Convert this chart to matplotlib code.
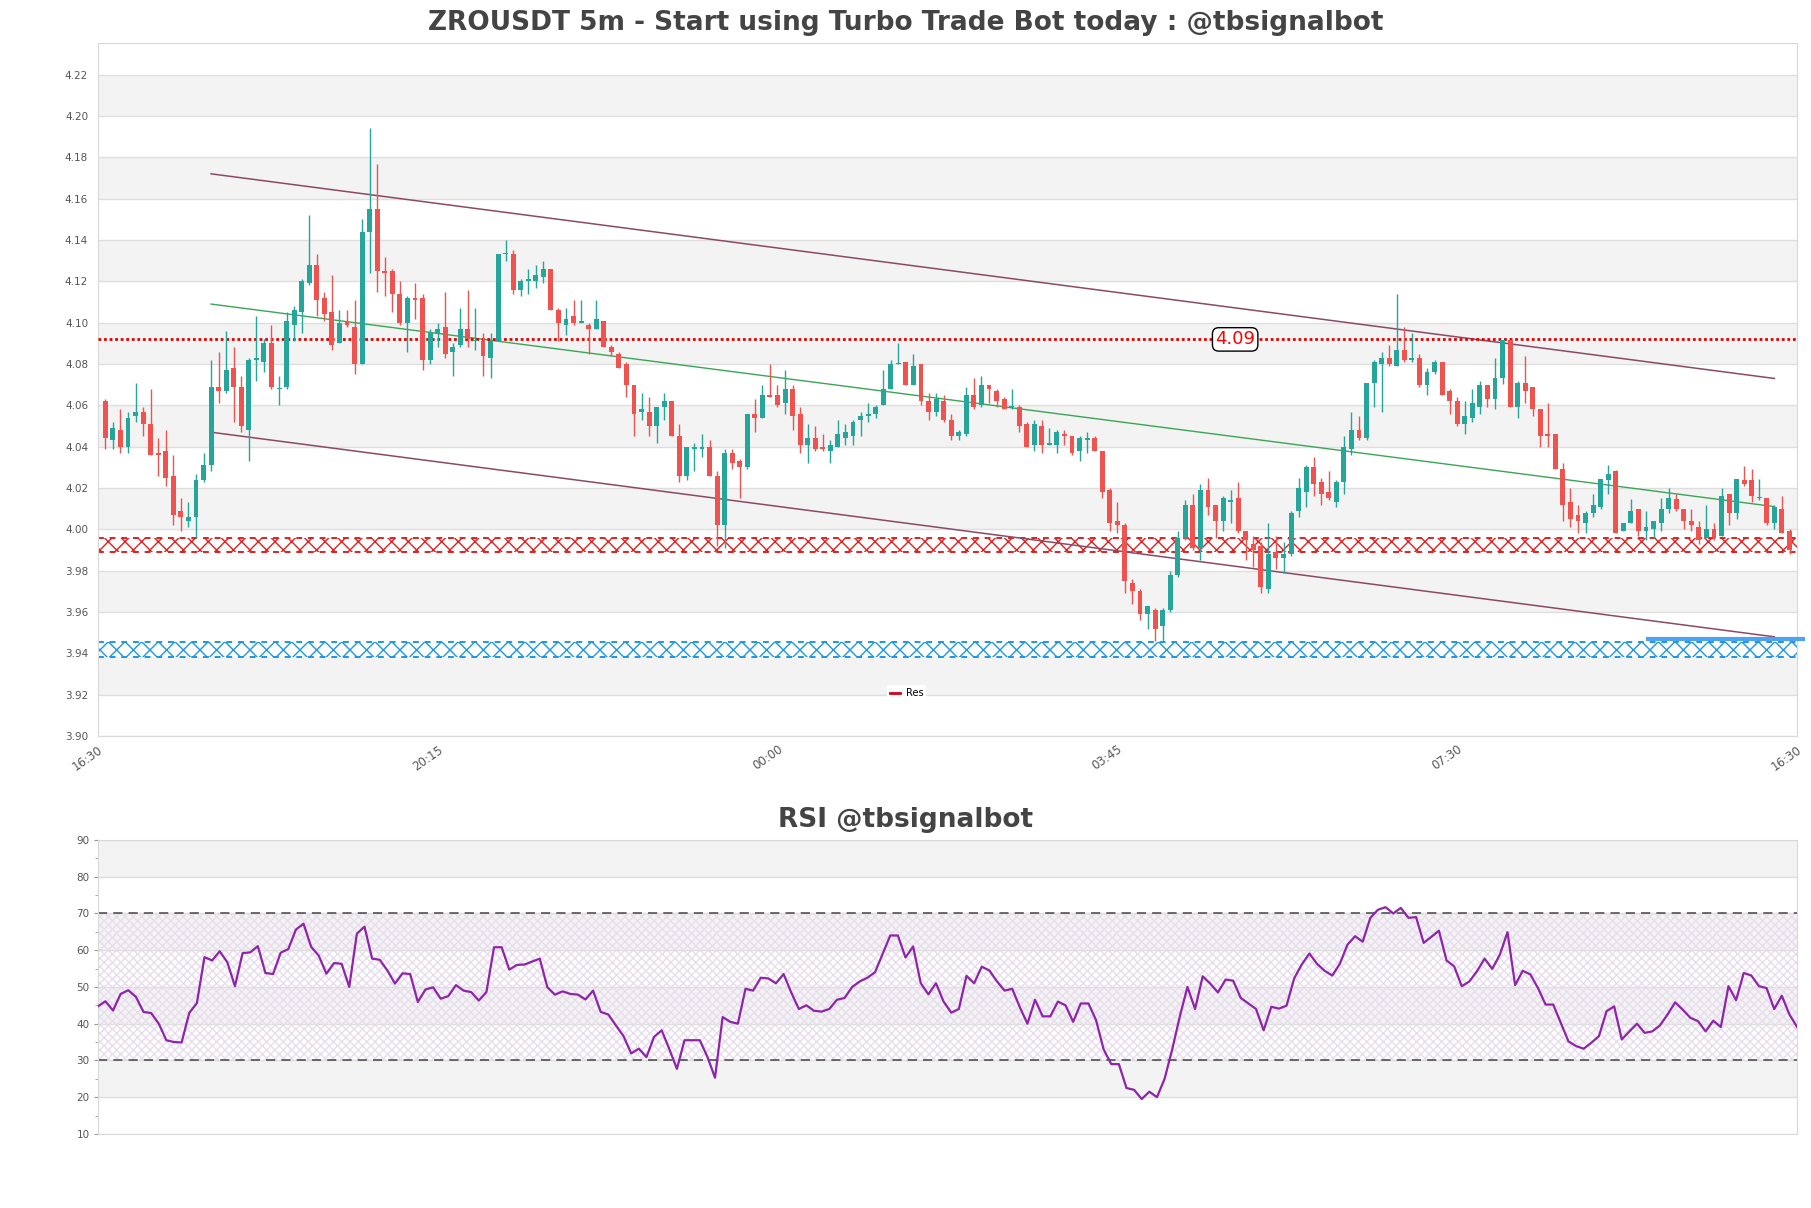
import numpy as np
import matplotlib.pyplot as plt
from matplotlib.lines import Line2D

# 5m candles, index 1..224
opens = [
    4.062, 4.043, 4.048, 4.040, 4.055, 4.057, 4.051, 4.037, 4.038, 4.026,
    4.009, 4.004, 4.006, 4.024, 4.031, 4.069, 4.067, 4.078, 4.069, 4.048,
    4.082, 4.081, 4.090, 4.068, 4.069, 4.099, 4.105, 4.119, 4.128, 4.112,
    4.105, 4.090, 4.101, 4.098, 4.080, 4.144, 4.155, 4.125, 4.125, 4.114,
    4.100, 4.112, 4.112, 4.082, 4.095, 4.098, 4.086, 4.089, 4.097, 4.091,
    4.091, 4.083, 4.091, 4.133, 4.133, 4.116, 4.120, 4.120, 4.122, 4.126,
    4.106, 4.099, 4.103, 4.100, 4.099, 4.097, 4.101, 4.088, 4.085, 4.080,
    4.070, 4.057, 4.057, 4.050, 4.059, 4.062, 4.045, 4.026, 4.039, 4.039,
    4.040, 4.026, 4.002, 4.037, 4.033, 4.030, 4.056, 4.054, 4.065, 4.065,
    4.061, 4.068, 4.056, 4.041, 4.044, 4.040, 4.038, 4.040, 4.044, 4.045,
    4.053, 4.055, 4.056, 4.060, 4.068, 4.080, 4.081, 4.070, 4.080, 4.062,
    4.057, 4.062, 4.053, 4.045, 4.046, 4.065, 4.060, 4.070, 4.067, 4.063,
    4.059, 4.059, 4.051, 4.041, 4.050, 4.041, 4.041, 4.046, 4.045, 4.038,
    4.043, 4.044, 4.038, 4.019, 4.004, 4.002, 3.974, 3.970, 3.959, 3.961,
    3.953, 3.961, 3.978, 3.996, 4.012, 3.991, 4.019, 4.012, 4.004, 4.013,
    4.015, 3.999, 3.993, 3.992, 3.971, 3.989, 3.986, 3.988, 4.009, 4.018,
    4.030, 4.023, 4.018, 4.013, 4.023, 4.039, 4.048, 4.044, 4.071, 4.080,
    4.083, 4.079, 4.087, 4.082, 4.083, 4.070, 4.076, 4.081, 4.067, 4.062,
    4.051, 4.054, 4.059, 4.070, 4.063, 4.073, 4.0915, 4.059, 4.071, 4.069,
    4.058, 4.046, 4.046, 4.029, 4.013, 4.007, 4.003, 4.008, 4.011, 4.024,
    4.028, 3.999, 4.003, 4.010, 3.999, 4.000, 4.003, 4.010, 4.0145, 4.010,
    4.004, 4.001, 3.996, 4.000, 3.997, 4.017, 4.008, 4.024, 4.024, 4.015,
    4.015, 4.003, 4.010, 3.999,
]
highs = [
    4.063, 4.052, 4.058, 4.057, 4.071, 4.059, 4.068, 4.044, 4.048, 4.036,
    4.015, 4.013, 4.027, 4.037, 4.082, 4.086, 4.096, 4.088, 4.074, 4.083,
    4.103, 4.092, 4.099, 4.074, 4.105, 4.108, 4.121, 4.152, 4.133, 4.115,
    4.123, 4.106, 4.106, 4.111, 4.150, 4.194, 4.177, 4.132, 4.126, 4.120,
    4.113, 4.119, 4.114, 4.097, 4.100, 4.115, 4.090, 4.107, 4.116, 4.107,
    4.095, 4.095, 4.133, 4.140, 4.135, 4.121, 4.126, 4.128, 4.130, 4.126,
    4.107, 4.107, 4.111, 4.111, 4.100, 4.111, 4.101, 4.089, 4.086, 4.081,
    4.070, 4.066, 4.064, 4.059, 4.066, 4.062, 4.051, 4.040, 4.042, 4.046,
    4.043, 4.028, 4.039, 4.039, 4.034, 4.056, 4.063, 4.070, 4.080, 4.070,
    4.077, 4.070, 4.059, 4.051, 4.050, 4.046, 4.043, 4.053, 4.051, 4.053,
    4.057, 4.061, 4.060, 4.077, 4.082, 4.090, 4.081, 4.085, 4.080, 4.066,
    4.066, 4.065, 4.056, 4.048, 4.069, 4.073, 4.074, 4.070, 4.068, 4.064,
    4.068, 4.060, 4.052, 4.053, 4.053, 4.049, 4.048, 4.048, 4.045, 4.045,
    4.047, 4.045, 4.038, 4.020, 4.013, 4.003, 3.976, 3.971, 3.963, 3.962,
    3.962, 3.980, 3.999, 4.014, 4.017, 4.022, 4.025, 4.012, 4.016, 4.019,
    4.023, 3.999, 3.997, 3.994, 4.003, 3.997, 3.994, 4.009, 4.025, 4.031,
    4.035, 4.025, 4.028, 4.024, 4.045, 4.057, 4.055, 4.071, 4.082, 4.086,
    4.089, 4.114, 4.098, 4.095, 4.085, 4.078, 4.082, 4.081, 4.068, 4.064,
    4.062, 4.068, 4.072, 4.070, 4.083, 4.0915, 4.0915, 4.072, 4.084, 4.069,
    4.058, 4.061, 4.046, 4.032, 4.020, 4.012, 4.009, 4.017, 4.0245, 4.031,
    4.0285, 4.003, 4.0145, 4.010, 4.009, 4.004, 4.015, 4.020, 4.017, 4.010,
    4.010, 4.004, 4.012, 4.003, 4.020, 4.017, 4.0245, 4.0305, 4.029, 4.0245,
    4.015, 4.012, 4.016, 4.000,
]
lows = [
    4.039, 4.039, 4.037, 4.037, 4.052, 4.045, 4.036, 4.026, 4.021, 4.002,
    3.999, 4.001, 3.996, 4.023, 4.028, 4.061, 4.066, 4.052, 4.047, 4.033,
    4.072, 4.076, 4.068, 4.060, 4.068, 4.091, 4.095, 4.118, 4.103, 4.101,
    4.087, 4.090, 4.098, 4.075, 4.080, 4.124, 4.115, 4.113, 4.105, 4.099,
    4.086, 4.102, 4.077, 4.080, 4.088, 4.083, 4.074, 4.088, 4.088, 4.087,
    4.074, 4.073, 4.091, 4.130, 4.114, 4.113, 4.114, 4.117, 4.119, 4.106,
    4.091, 4.094, 4.099, 4.0997, 4.085, 4.097, 4.088, 4.084, 4.078, 4.064,
    4.045, 4.053, 4.045, 4.042, 4.053, 4.045, 4.023, 4.024, 4.028, 4.035,
    4.026, 3.992, 3.991, 4.029, 4.015, 4.029, 4.047, 4.054, 4.064, 4.059,
    4.056, 4.048, 4.037, 4.032, 4.038, 4.038, 4.032, 4.040, 4.041, 4.041,
    4.045, 4.052, 4.054, 4.060, 4.068, 4.080, 4.070, 4.070, 4.060, 4.053,
    4.055, 4.052, 4.043, 4.043, 4.045, 4.058, 4.059, 4.061, 4.059, 4.058,
    4.058, 4.047, 4.040, 4.038, 4.037, 4.041, 4.037, 4.041, 4.036, 4.033,
    4.037, 4.038, 4.015, 3.999, 3.998, 3.969, 3.964, 3.956, 3.952, 3.946,
    3.946, 3.960, 3.977, 3.995, 3.990, 3.985, 4.007, 3.996, 3.999, 4.003,
    3.998, 3.985, 3.982, 3.969, 3.969, 3.981, 3.979, 3.987, 4.006, 4.011,
    4.016, 4.012, 4.014, 4.011, 4.017, 4.036, 4.043, 4.043, 4.059, 4.057,
    4.079, 4.079, 4.081, 4.081, 4.069, 4.065, 4.075, 4.065, 4.056, 4.050,
    4.046, 4.052, 4.056, 4.059, 4.058, 4.0705, 4.059, 4.054, 4.061, 4.055,
    4.040, 4.040, 4.029, 4.004, 4.001, 3.998, 3.998, 4.006, 4.010, 4.017,
    3.998, 3.999, 4.003, 3.997, 3.995, 3.996, 3.999, 4.008, 4.009, 4.000,
    3.999, 3.993, 3.996, 3.995, 3.997, 4.002, 4.005, 4.021, 4.013, 4.0143,
    4.002, 4.000, 3.998, 3.988,
]
closes = [
    4.044, 4.049, 4.040, 4.054, 4.057, 4.051, 4.036, 4.036, 4.025, 4.007,
    4.006, 4.006, 4.024, 4.031, 4.069, 4.067, 4.077, 4.069, 4.050, 4.082,
    4.083, 4.090, 4.069, 4.068, 4.101, 4.106, 4.120, 4.128, 4.111, 4.104,
    4.089, 4.100, 4.099, 4.080, 4.144, 4.155, 4.125, 4.124, 4.114, 4.100,
    4.112, 4.111, 4.082, 4.095, 4.097, 4.085, 4.088, 4.097, 4.092, 4.091,
    4.084, 4.091, 4.133, 4.133, 4.116, 4.120, 4.121, 4.123, 4.126, 4.106,
    4.100, 4.102, 4.100, 4.100, 4.097, 4.102, 4.088, 4.086, 4.078, 4.070,
    4.056, 4.058, 4.050, 4.059, 4.062, 4.045, 4.026, 4.040, 4.040, 4.040,
    4.026, 4.002, 4.037, 4.032, 4.030, 4.056, 4.054, 4.065, 4.064, 4.060,
    4.068, 4.055, 4.041, 4.044, 4.039, 4.039, 4.041, 4.046, 4.047, 4.052,
    4.055, 4.056, 4.059, 4.068, 4.080, 4.080, 4.070, 4.079, 4.062, 4.057,
    4.063, 4.053, 4.045, 4.047, 4.065, 4.059, 4.070, 4.068, 4.062, 4.058,
    4.059, 4.050, 4.040, 4.051, 4.041, 4.041, 4.047, 4.045, 4.037, 4.044,
    4.044, 4.038, 4.018, 4.003, 4.002, 3.975, 3.970, 3.959, 3.963, 3.952,
    3.961, 3.978, 3.996, 4.012, 3.991, 4.019, 4.011, 4.004, 4.015, 4.014,
    3.999, 3.995, 3.990, 3.972, 3.988, 3.986, 3.988, 4.008, 4.020, 4.030,
    4.022, 4.017, 4.015, 4.023, 4.040, 4.048, 4.044, 4.071, 4.081, 4.083,
    4.080, 4.087, 4.082, 4.083, 4.070, 4.076, 4.081, 4.065, 4.062, 4.051,
    4.055, 4.061, 4.070, 4.063, 4.073, 4.0915, 4.059, 4.071, 4.067, 4.058,
    4.045, 4.045, 4.029, 4.012, 4.005, 4.004, 4.008, 4.012, 4.0245, 4.027,
    3.998, 4.003, 4.009, 3.999, 4.001, 4.004, 4.010, 4.015, 4.010, 4.004,
    4.002, 3.995, 4.000, 3.996, 4.016, 4.008, 4.0245, 4.022, 4.016, 4.015,
    4.003, 4.011, 3.998, 3.990,
]

rsi = [
    44.7, 46.1, 43.6, 48.1, 49.1, 47.3, 43.2, 42.9, 40.0, 35.5,
    35.0, 34.9, 42.9, 45.6, 58.1, 57.2, 59.7, 56.7, 50.2, 59.2,
    59.4, 61.1, 53.8, 53.5, 59.3, 60.3, 65.6, 67.2, 60.9, 58.5,
    53.6, 56.5, 56.3, 50.0, 64.5, 66.4, 57.7, 57.4, 54.5, 50.9,
    53.7, 53.5, 45.9, 49.3, 49.9, 46.8, 47.5, 50.5, 49.0, 48.6,
    46.3, 48.6, 60.8, 60.8, 54.7, 56.0, 56.1, 56.9, 57.7, 49.9,
    47.9, 48.8, 48.1, 47.9, 46.6, 49.0, 43.2, 42.5, 39.5, 36.6,
    31.9, 33.2, 30.9, 36.4, 38.2, 33.1, 27.7, 35.5, 35.5, 35.5,
    31.0, 25.3, 41.8, 40.5, 40.0, 49.5, 49.0, 52.5, 52.3, 51.0,
    53.5, 48.5, 44.0, 45.0, 43.5, 43.3, 44.0, 46.5, 47.0, 50.0,
    51.5, 52.5, 54.0, 59.0, 64.0, 64.0, 58.0, 61.0, 51.0, 48.0,
    51.0, 46.0, 43.0, 44.0, 53.0, 51.0, 55.5, 54.5, 51.5, 49.0,
    49.5, 44.5, 40.0, 46.5, 42.0, 42.0, 46.0, 45.0, 40.5, 45.5,
    45.5, 41.0, 33.0, 29.0, 29.0, 22.5, 22.0, 19.5, 21.5, 20.0,
    25.0, 33.0, 42.0, 50.0, 44.0, 52.9, 50.9, 48.5, 52.0, 51.7,
    47.0, 45.5, 44.0, 38.2, 44.6, 44.1, 44.9, 52.3, 56.1, 59.1,
    56.3, 54.4, 53.1, 56.3, 61.5, 63.8, 62.3, 68.8, 71.0, 71.7,
    70.0, 71.5, 68.8, 69.0, 62.0, 63.6, 65.3, 57.2, 55.6, 50.2,
    51.5, 54.3, 57.7, 54.9, 58.8, 64.9, 50.5, 54.4, 53.4, 49.7,
    45.2, 45.2, 40.2, 35.2, 33.9, 33.2, 34.8, 36.6, 43.4, 44.7,
    35.7, 37.9, 40.0, 37.5, 37.9, 39.5, 42.5, 45.8, 43.8, 41.6,
    40.7, 37.9, 40.8, 39.1, 50.2, 46.4, 53.8, 53.1, 50.2, 49.7,
    44.0, 47.6, 42.5, 39.1,
]

tick_pos = [0, 45, 90, 135, 180, 225]
tick_labels = ['16:30', '20:15', '00:00', '03:45', '07:30', '16:30']

# drawn levels
trend_x = [15, 222]
channel_upper = [4.172, 4.073]
channel_lower = [4.047, 3.948]
midline = [4.109, 4.011]
resistance = 4.0919
res_zone = (3.9888, 3.9956)
sup_zone = (3.9384, 3.9453)
support_mark = 3.9468
support_mark_x = [205, 226]

up_col = '#26a69a'
down_col = '#ef5350'
grid_col = '#dedede'
band_col = '#f3f3f3'
text_col = '#555555'

fig = plt.figure(figsize=(18.11, 12.08), dpi=100)
ax = fig.add_axes([0.054, 0.3907, 0.9383, 0.5737])
ax2 = fig.add_axes([0.054, 0.0613, 0.9383, 0.2434])

# ---- price panel ----
o = np.array(opens); h = np.array(highs); l = np.array(lows); c = np.array(closes)
x = np.arange(1, len(o) + 1)
cols = np.where(c >= o, up_col, down_col)

ax.set_xlim(0, 225)
ax.set_ylim(3.90, 4.2353)
yt = np.round(np.arange(3.90, 4.221, 0.02), 2)
ax.set_yticks(yt)
ax.set_yticklabels(['%.2f' % v for v in yt])
for y0 in yt[1::2]:
    ax.axhspan(y0, y0 + 0.02, color=band_col, lw=0, zorder=0)
ax.yaxis.grid(True, color=grid_col, lw=1, zorder=1)
ax.set_axisbelow(True)

ax.vlines(x, l, h, colors=cols, lw=1, zorder=4)
ax.bar(x, np.maximum(np.abs(c - o), 0.0006), bottom=np.minimum(o, c),
       width=0.65, color=cols, lw=0, zorder=5)

def zone(a, lo, hi, col):
    a.axhspan(lo, hi, facecolor='white', edgecolor=col, hatch='xx', lw=0, zorder=2)
    a.axhline(lo, color=col, lw=1.4, ls=(0, (3, 3)), zorder=2)
    a.axhline(hi, color=col, lw=1.4, ls=(0, (3, 3)), zorder=2)

zone(ax, *res_zone, '#e02020')
zone(ax, *sup_zone, '#1e96e0')

ax.plot(trend_x, channel_upper, color='#8a4a66', lw=1.1, zorder=3)
ax.plot(trend_x, channel_lower, color='#8a4a66', lw=1.1, zorder=3)
ax.plot(trend_x, midline, color='#3aa655', lw=1.0, zorder=3)

ax.axhline(resistance, color='#e00000', lw=2, ls=(0, (1, 1)), zorder=3)
ax.text(150.6, resistance, '4.09', color='red', fontsize=13, ha='center', va='center', zorder=6,
        bbox=dict(boxstyle='round,pad=0.15,rounding_size=0.35', fc='white', ec='black', lw=1))

ax.plot(support_mark_x, [support_mark, support_mark], color='#4da3f0', lw=3,
        solid_capstyle='butt', clip_on=False, zorder=6)

ax.legend(handles=[Line2D([], [], color='#d0021b', lw=2)], labels=['Res'],
          loc='center', bbox_to_anchor=(0.476, 0.062), fontsize=7, frameon=True,
          facecolor='white', edgecolor='none', framealpha=1, handlelength=1.0,
          borderpad=0.3, handletextpad=0.6)

ax.set_xticks(tick_pos)
ax.set_xticklabels(tick_labels, rotation=35, ha='right', rotation_mode='anchor')
ax.tick_params(axis='y', length=0, pad=7, labelsize=7.5, colors=text_col)
ax.tick_params(axis='x', length=0, pad=5, labelsize=8.5, colors=text_col)

# ---- RSI panel ----
j = np.arange(len(rsi))
ax2.set_xlim(0, len(rsi) - 1)
ax2.set_ylim(10, 90)
ax2.set_yticks(range(10, 91, 10))
ax2.set_yticks(range(15, 90, 10), minor=True)
for y0 in (20, 40, 60, 80):
    ax2.axhspan(y0, y0 + 10, color=band_col, lw=0, zorder=0)
ax2.yaxis.grid(True, color=grid_col, lw=1, zorder=1)
ax2.axhspan(30, 70, facecolor='none', edgecolor='#e8dded', hatch='xxxx', lw=0, zorder=1)
ax2.axhline(30, color='#444444', lw=1.1, ls=(0, (6, 4)), zorder=2)
ax2.axhline(70, color='#444444', lw=1.1, ls=(0, (6, 4)), zorder=2)
ax2.plot(j, rsi, color='#8e24aa', lw=1.6, zorder=4)
ax2.set_xticks([])
ax2.tick_params(axis='y', which='both', length=3, pad=3, labelsize=7.5,
                colors=text_col, color='#999999')
ax2.tick_params(axis='y', which='minor', length=2)

for a in (ax, ax2):
    for s in a.spines.values():
        s.set_color('#d9d9d9')

fig.text(0.5, 1 - 23 / 1208, 'ZROUSDT 5m - Start using Turbo Trade Bot today : @tbsignalbot',
         ha='center', va='center', fontsize=19, fontweight='bold', color='#444444')
fig.text(0.5, 1 - 820 / 1208, 'RSI @tbsignalbot', ha='center', va='center',
         fontsize=19, fontweight='bold', color='#444444')

fig.savefig('out.png', dpi=100)
